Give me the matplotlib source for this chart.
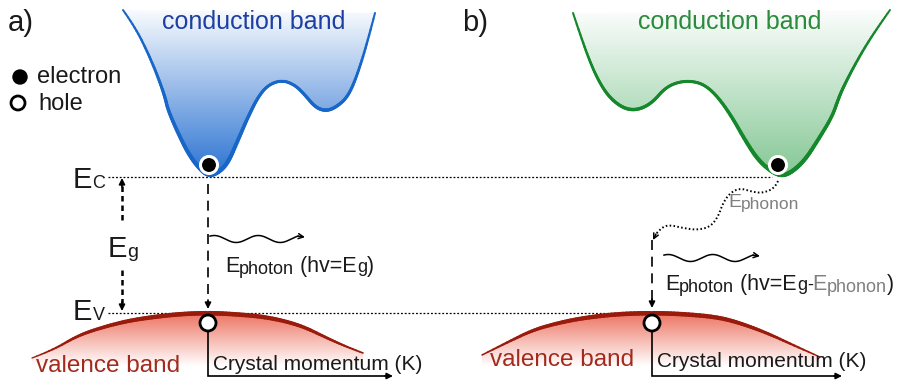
import matplotlib.pyplot as plt
import numpy as np
from matplotlib.collections import LineCollection
from matplotlib.patches import Circle, Polygon
from matplotlib.path import Path
from matplotlib.colors import to_rgb

plt.rcParams['font.family'] = ['Liberation Sans', 'DejaVu Sans']

# --- band outlines (pixel coordinates, y grows downward) ---
cb_a_x = [123, 135, 148, 158, 165, 168, 178, 188, 198, 208, 218, 228, 238,
          248, 258, 268, 282, 295, 305, 315, 325, 335, 348, 358, 368, 375]
cb_a_y = [10, 27, 53, 77, 97, 110, 133, 153, 167, 176, 173, 163, 140,
          117, 97, 85, 80, 85, 95, 107, 111, 108, 97, 73, 40, 13]

cb_b_x = [573, 582, 592, 602, 612, 625, 638, 652, 665, 678, 692, 705, 718, 732,
          745, 758, 772, 782, 792, 805, 818, 832, 838, 842, 852, 865, 878, 890]
cb_b_y = [13, 40, 67, 87, 100, 109, 110, 103, 88, 82, 81, 85, 97, 117,
          140, 160, 172, 176, 172, 160, 140, 117, 100, 90, 70, 47, 27, 10]

vb_a_x = [32, 53, 77, 100, 127, 153, 180, 208, 233, 267, 300, 327, 347, 363]
vb_a_y = [358, 350, 336, 328, 321, 317, 314, 313, 314, 317, 325, 338, 347, 353]

vb_b_x = [482, 508, 533, 558, 583, 617, 652, 683, 717, 740, 767, 793, 820]
vb_b_y = [355, 342, 330, 323, 318, 314, 313, 314, 317, 323, 333, 345, 357]

# dotted phonon path from the electron in b) towards the photon emission point
ph_x = [778, 775, 763, 753, 740, 730, 723, 718, 710, 697, 683, 670, 662, 656]
ph_y = [181, 188, 193, 192, 188, 193, 203, 217, 227, 230, 228, 225, 227, 234]

# energy levels
y_ec = 177
y_ev = 313

# electrons / holes
electron_xy = [(209, 165), (778, 165)]
hole_xy = [(208, 323), (652, 323)]

dark = '#1a1a1a'
gray = '#808080'

fig = plt.figure(figsize=(8.99, 3.82), dpi=100)
ax = fig.add_axes([0, 0, 1, 1])
ax.set_xlim(0, 899)
ax.set_ylim(382, 0)
ax.axis('off')


def smooth(xs, ys, steps=10):
    """Quadratic Bezier through the midpoints of the outline, flattened."""
    p = np.column_stack([xs, ys]).astype(float)
    verts = [p[0]]
    codes = [Path.MOVETO]
    for i in range(1, len(p) - 2):
        verts += [p[i], (p[i] + p[i + 1]) / 2]
        codes += [Path.CURVE3, Path.CURVE3]
    verts += [p[-2], p[-1]]
    codes += [Path.CURVE3, Path.CURVE3]
    path = Path(verts, codes)
    t = np.linspace(0, 1, steps)[1:]
    out = [p[0]]
    for seg, code in path.iter_bezier():
        if code == Path.MOVETO:
            continue
        out.extend(seg(t))
    out = np.array(out)
    return out[:, 0], out[:, 1]


def gradient_fill(xs, ys, top, bottom, c_top, c_bot):
    poly = Polygon(np.column_stack([xs, ys]), closed=True,
                   facecolor='none', edgecolor='none')
    ax.add_patch(poly)
    t = np.linspace(0, 1, 256)[:, None]
    c0 = np.array(to_rgb(c_top))
    c1 = np.array(to_rgb(c_bot))
    img = (c0 + (c1 - c0) * t)[:, None, :]
    im = ax.imshow(img, extent=(min(xs), max(xs), bottom, top), origin='upper',
                   aspect='auto', interpolation='bilinear', zorder=1)
    im.set_clip_path(poly)


def tapered(xs, ys, color, widths):
    pts = np.column_stack([xs, ys]).reshape(-1, 1, 2)
    segs = np.concatenate([pts[:-1], pts[1:]], axis=1)
    lc = LineCollection(segs, colors=color, linewidths=widths,
                        capstyle='round', joinstyle='round', zorder=3)
    ax.add_collection(lc)


def seg_mid_y(ys):
    ys = np.asarray(ys, float)
    return (ys[:-1] + ys[1:]) / 2


def wavy(x0, x1, yc, amp=3.5, waves=2, color='black'):
    xe = x1 - 7
    xs = np.linspace(x0, xe, 200)
    ys = yc - amp * np.cos(2 * np.pi * waves * (xs - x0) / (xe - x0) - 0.6)
    ax.plot(xs, ys, color=color, lw=1.1, zorder=4)
    ax.annotate('', xy=(x1, ys[-1] + 1), xytext=(xs[-1], ys[-1]),
                arrowprops=dict(arrowstyle='->', lw=1.1, color=color,
                                shrinkA=0, shrinkB=0, mutation_scale=9))


def head(tip, frm, style='-|>', lw=1.2, scale=9):
    ax.annotate('', xy=tip, xytext=frm,
                arrowprops=dict(arrowstyle=style, lw=lw, color='black',
                                shrinkA=0, shrinkB=0, mutation_scale=scale))


renderer = fig.canvas.get_renderer()


def run(x, y, parts):
    for s, size, color, dy in parts:
        t = ax.text(x, y + dy, s, fontsize=size, color=color,
                    ha='left', va='baseline', zorder=5)
        x += t.get_window_extent(renderer=renderer).width


# --- conduction bands ---
for bx, by, fill_c, line_c in [(cb_a_x, cb_a_y, '#2a72d2', '#1766c8'),
                               (cb_b_x, cb_b_y, '#84c794', '#14882b')]:
    sx, sy = smooth(bx, by)
    gradient_fill(sx, sy, 5, 177, '#ffffff', fill_c)
    tapered(sx, sy, line_c, 1.4 + 1.7 * (seg_mid_y(sy) - 10) / 165)

# --- valence bands ---
for bx, by in [(vb_a_x, vb_a_y), (vb_b_x, vb_b_y)]:
    sx, sy = smooth(bx, by)
    gradient_fill(list(sx) + [sx[-1], sx[0]], list(sy) + [375, 375],
                  311, 366, '#ec6e5c', '#ffffff')
    tapered(sx, sy, '#9a1a0c', 0.9 + 2.4 * (358 - seg_mid_y(sy)) / 45)

# --- energy levels ---
ax.plot([108, 772], [y_ec, y_ec], color='black', lw=0.9,
        linestyle=(0, (1.5, 1.5)), zorder=2)
ax.plot([108, 650], [y_ev, y_ev], color='black', lw=0.9,
        linestyle=(0, (1.5, 1.5)), zorder=2)

# band gap arrow
ax.plot([122, 122], [186, 224], color='black', lw=1.8,
        linestyle=(0, (2.2, 1.6)), zorder=2)
ax.plot([122, 122], [270, 303], color='black', lw=1.8,
        linestyle=(0, (2.2, 1.6)), zorder=2)
head((122, 178), (122, 187))
head((122, 311), (122, 302))

# --- transitions ---
ax.plot([208, 208], [184, 302], color='black', lw=1.2,
        linestyle=(0, (6, 4)), zorder=2)
head((208, 309), (208, 300))
ax.plot([652, 652], [240, 300], color='black', lw=1.2,
        linestyle=(0, (6, 4)), zorder=2)
head((652, 308), (652, 299))

px, py = smooth(ph_x, ph_y)
ax.plot(px, py, color='black', lw=1.4, linestyle=(0, (0.8, 1.2)), zorder=4)
ax.annotate('', xy=(653, 240), xytext=(ph_x[-1], ph_y[-1]),
            arrowprops=dict(arrowstyle='->', lw=1.1, color='black',
                            shrinkA=0, shrinkB=0, mutation_scale=9))

wavy(210, 305, 239)
wavy(664, 760, 258)

# --- crystal momentum axes ---
for (hx, hy), x_end in zip(hole_xy, [393, 842]):
    ax.plot([hx, hx, x_end - 6], [hy + 8, 376, 376], color='black',
            lw=1.2, zorder=2, solid_joinstyle='miter')
    head((x_end, 376), (x_end - 8, 376))

# --- particles ---
for cx, cy in electron_xy:
    ax.add_patch(Circle((cx, cy), 8.5, facecolor='black', edgecolor='white',
                        lw=2.2, zorder=6))
for cx, cy in hole_xy:
    ax.add_patch(Circle((cx, cy), 8, facecolor='white', edgecolor='black',
                        lw=2.0, zorder=6))

# legend
ax.add_patch(Circle((20, 77), 7, facecolor='black', edgecolor='black', lw=1, zorder=6))
ax.add_patch(Circle((18, 103), 7, facecolor='white', edgecolor='black', lw=2, zorder=6))
ax.text(37, 83, 'electron', fontsize=17, color=dark, va='baseline')
ax.text(38, 110, 'hole', fontsize=17, color=dark, va='baseline')

# --- labels ---
ax.text(8, 31, 'a)', fontsize=21, color=dark, va='baseline')
ax.text(462, 31, 'b)', fontsize=21, color=dark, va='baseline')
ax.text(162, 29, 'conduction band', fontsize=18, color='#1e3fa2', va='baseline', zorder=5)
ax.text(638, 29, 'conduction band', fontsize=18, color='#2b8a3c', va='baseline', zorder=5)
ax.text(36, 372, 'valence band', fontsize=17.5, color='#a32a1c', va='baseline', zorder=5)
ax.text(490, 366, 'valence band', fontsize=17.5, color='#a32a1c', va='baseline', zorder=5)
ax.text(213, 370, 'Crystal momentum (K)', fontsize=15, color=dark, va='baseline', zorder=5)
ax.text(657, 367, 'Crystal momentum (K)', fontsize=15, color=dark, va='baseline', zorder=5)

run(73, 188, [('E', 21, dark, 0), ('C', 13, dark, 0)])
run(73, 320, [('E', 21, dark, 0), ('V', 13, dark, 0)])
run(108, 257, [('E', 21, dark, 0), ('g', 14, dark, 0)])

run(225, 272, [('E', 15.5, dark, 0), ('photon', 13, dark, 1.5),
               (' (hv=E', 15.5, dark, 0), ('g', 13, dark, 0), (')', 15.5, dark, 0)])
run(665, 290, [('E', 15.5, dark, 0), ('photon', 13, dark, 1.5),
               (' (hv=E', 15.5, dark, 0), ('g', 13, dark, 0), ('-', 13, dark, 0),
               ('E', 15.5, gray, 0), ('phonon', 13, gray, 1.5), (')', 15.5, dark, 0)])
run(728, 207, [('E', 14, gray, 0), ('phonon', 12.5, gray, 1.5)])

ax.set_xlim(0, 899)
ax.set_ylim(382, 0)
fig.savefig('out.png', dpi=100)
